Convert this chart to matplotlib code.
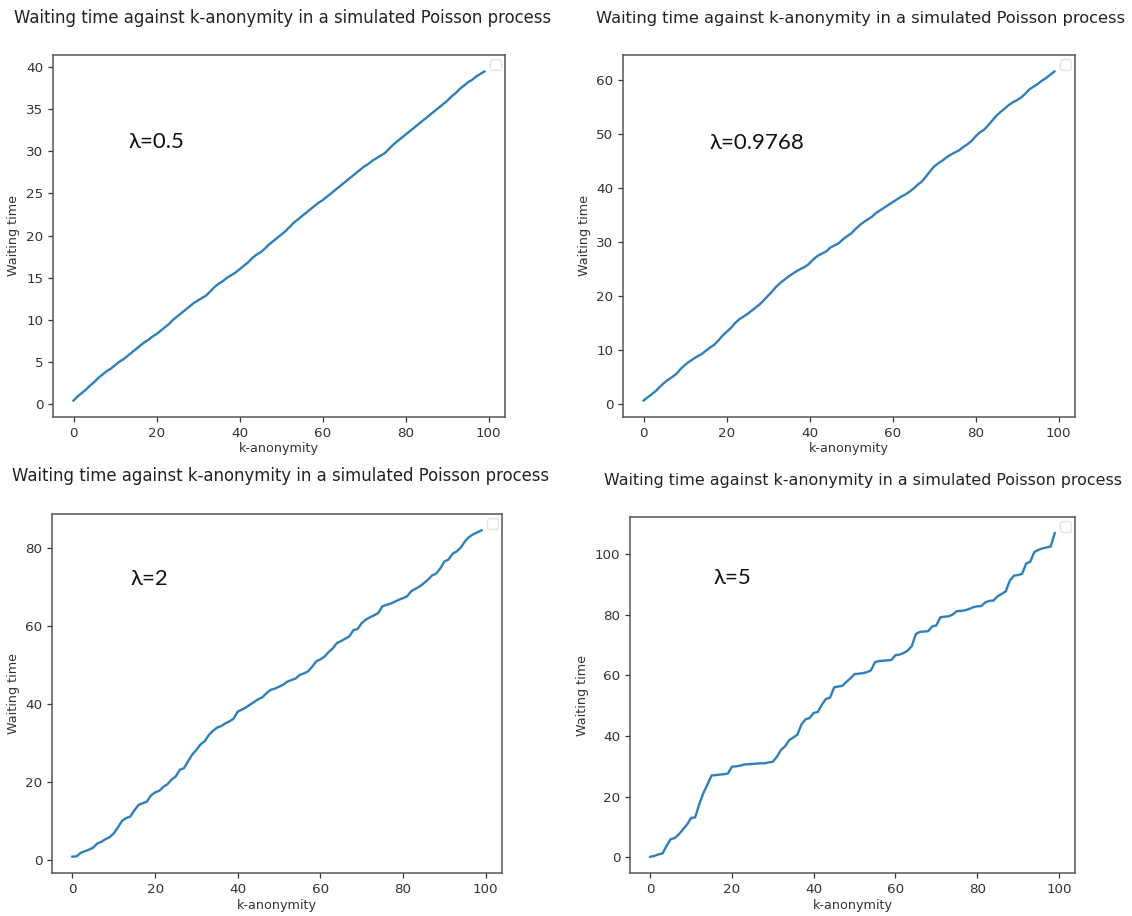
import matplotlib
matplotlib.use("Agg")
import matplotlib.pyplot as plt
import numpy as np

k = list(range(100))

wait_05 = [0.4, 0.9, 1.3, 1.7, 2.2, 2.6, 3.1, 3.5, 3.9, 4.2,
           4.6, 5.0, 5.3, 5.7, 6.1, 6.5, 6.9, 7.3, 7.6, 8.0,
           8.3, 8.7, 9.1, 9.5, 10.0, 10.4, 10.8, 11.2, 11.6, 12.0,
           12.3, 12.6, 12.9, 13.4, 13.9, 14.3, 14.6, 15.0, 15.3, 15.6,
           16.0, 16.4, 16.8, 17.3, 17.7, 18.0, 18.4, 18.9, 19.3, 19.7,
           20.1, 20.5, 21.0, 21.5, 21.9, 22.3, 22.7, 23.1, 23.5, 23.9,
           24.2, 24.6, 25.0, 25.4, 25.8, 26.2, 26.6, 27.0, 27.4, 27.8,
           28.2, 28.5, 28.9, 29.2, 29.5, 29.8, 30.3, 30.8, 31.2, 31.6,
           32.0, 32.4, 32.8, 33.2, 33.6, 34.0, 34.4, 34.8, 35.2, 35.6,
           36.0, 36.5, 36.9, 37.4, 37.8, 38.2, 38.5, 38.9, 39.2, 39.5]

wait_09768 = [0.7, 1.3, 1.9, 2.5, 3.3, 4.0, 4.6, 5.1, 5.7, 6.6,
              7.3, 7.9, 8.4, 8.9, 9.3, 9.9, 10.5, 11.0, 11.8, 12.7,
              13.4, 14.1, 15.0, 15.7, 16.2, 16.7, 17.3, 17.9, 18.5, 19.3,
              20.1, 20.9, 21.8, 22.5, 23.1, 23.7, 24.2, 24.7, 25.1, 25.5,
              26.1, 26.9, 27.5, 27.9, 28.3, 29.0, 29.4, 29.8, 30.5, 31.1,
              31.6, 32.4, 33.1, 33.7, 34.2, 34.7, 35.4, 35.9, 36.4, 36.9,
              37.4, 37.9, 38.4, 38.8, 39.3, 39.9, 40.6, 41.2, 42.1, 43.1,
              44.0, 44.6, 45.1, 45.7, 46.2, 46.6, 47.0, 47.6, 48.1, 48.7,
              49.6, 50.3, 50.8, 51.6, 52.5, 53.4, 54.1, 54.7, 55.4, 55.9,
              56.3, 56.8, 57.5, 58.3, 58.8, 59.3, 59.9, 60.4, 61.0, 61.6]

wait_2 = [0.9, 1.0, 1.9, 2.3, 2.7, 3.2, 4.3, 4.7, 5.4, 5.9,
          6.9, 8.4, 10.1, 10.8, 11.2, 12.8, 14.2, 14.6, 15.0, 16.6,
          17.4, 17.8, 18.8, 19.5, 20.7, 21.5, 23.2, 23.6, 25.4, 27.1,
          28.3, 29.7, 30.5, 32.1, 33.2, 34.0, 34.4, 35.1, 35.6, 36.3,
          38.1, 38.6, 39.2, 39.9, 40.6, 41.3, 41.8, 42.9, 43.7, 44.0,
          44.5, 45.0, 45.8, 46.2, 46.6, 47.5, 47.9, 48.4, 49.6, 51.0,
          51.5, 52.2, 53.4, 54.3, 55.7, 56.2, 56.8, 57.4, 59.0, 59.3,
          60.8, 61.7, 62.3, 62.8, 63.4, 65.1, 65.5, 65.8, 66.3, 66.8,
          67.2, 67.7, 69.0, 69.6, 70.2, 71.0, 71.9, 73.0, 73.5, 74.8,
          76.6, 77.1, 78.6, 79.2, 80.2, 81.8, 82.9, 83.6, 84.1, 84.6]

wait_5 = [0.2, 0.5, 1.0, 1.3, 3.8, 6.0, 6.4, 7.6, 9.2, 10.8,
          13.0, 13.2, 17.5, 21.2, 24.0, 27.0, 27.1, 27.3, 27.4, 27.6,
          29.9, 30.0, 30.2, 30.6, 30.7, 30.8, 30.9, 31.0, 31.0, 31.3,
          31.5, 33.2, 35.4, 36.6, 38.6, 39.5, 40.4, 43.8, 45.5, 45.9,
          47.6, 47.9, 50.3, 52.2, 52.6, 56.0, 56.3, 56.5, 57.8, 59.0,
          60.4, 60.5, 60.7, 61.0, 61.6, 64.3, 64.7, 64.8, 64.9, 65.0,
          66.6, 66.8, 67.3, 68.1, 69.6, 73.6, 74.3, 74.4, 74.5, 76.1,
          76.4, 79.1, 79.3, 79.4, 80.0, 81.1, 81.2, 81.4, 81.8, 82.4,
          82.7, 82.8, 84.0, 84.5, 84.6, 86.0, 86.8, 87.6, 91.2, 92.8,
          93.0, 93.4, 96.8, 97.4, 100.6, 101.3, 101.8, 102.1, 102.4, 106.8]

series = [wait_05, wait_09768, wait_2, wait_5]
lambda_labels = ["λ=0.5", "λ=0.9768", "λ=2", "λ=5"]
label_pos = [(13.3, 31.1), (15.9, 48.3), (14.0, 72.2), (15.6, 92.0)]
title = "Waiting time against k-anonymity in a simulated Poisson process"

W, H = 1132, 916
fig = plt.figure(figsize=(W / 100, H / 100), dpi=100)

# axes boxes in pixels: left, top, right, bottom
boxes = [(53, 55, 505, 417), (623, 55, 1075, 417),
         (52, 514, 502, 873), (630, 517, 1075, 873)]
title_pos = [(282, 18), (861, 18), (280, 476), (863, 480)]
title_size = [11.9, 11.7, 11.9, 11.4]

for i, (box, ys) in enumerate(zip(boxes, series)):
    l, t, r, b = box
    ax = fig.add_axes([l / W, 1 - b / H, (r - l) / W, (b - t) / H])
    ax.plot(k, ys, color="#2f7fba", lw=1.7)
    for sp in ax.spines.values():
        sp.set_color("#555555")
        sp.set_linewidth(1.1)
    ax.tick_params(labelsize=9.7, colors="#333333", length=3.5, width=0.9)
    ax.set_xlabel("k-anonymity", fontsize=9.2, color="#333333", labelpad=2)
    ax.set_ylabel("Waiting time", fontsize=9.2, color="#333333")
    ax.set_xticks([0, 20, 40, 60, 80, 100])
    leg = ax.legend(handles=[], loc="upper right", borderaxespad=0.3)
    leg.get_frame().set_edgecolor("#dddddd")
    ax.text(label_pos[i][0], label_pos[i][1], lambda_labels[i], fontsize=16,
            family=["Lato", "Open Sans", "DejaVu Sans"], ha="left", va="center",
            color="#111111")
    tx, ty = title_pos[i]
    fig.text(tx / W, 1 - ty / H, title, fontsize=title_size[i], ha="center",
             va="center", color="#222222")

fig.savefig("out.png", dpi=100)
